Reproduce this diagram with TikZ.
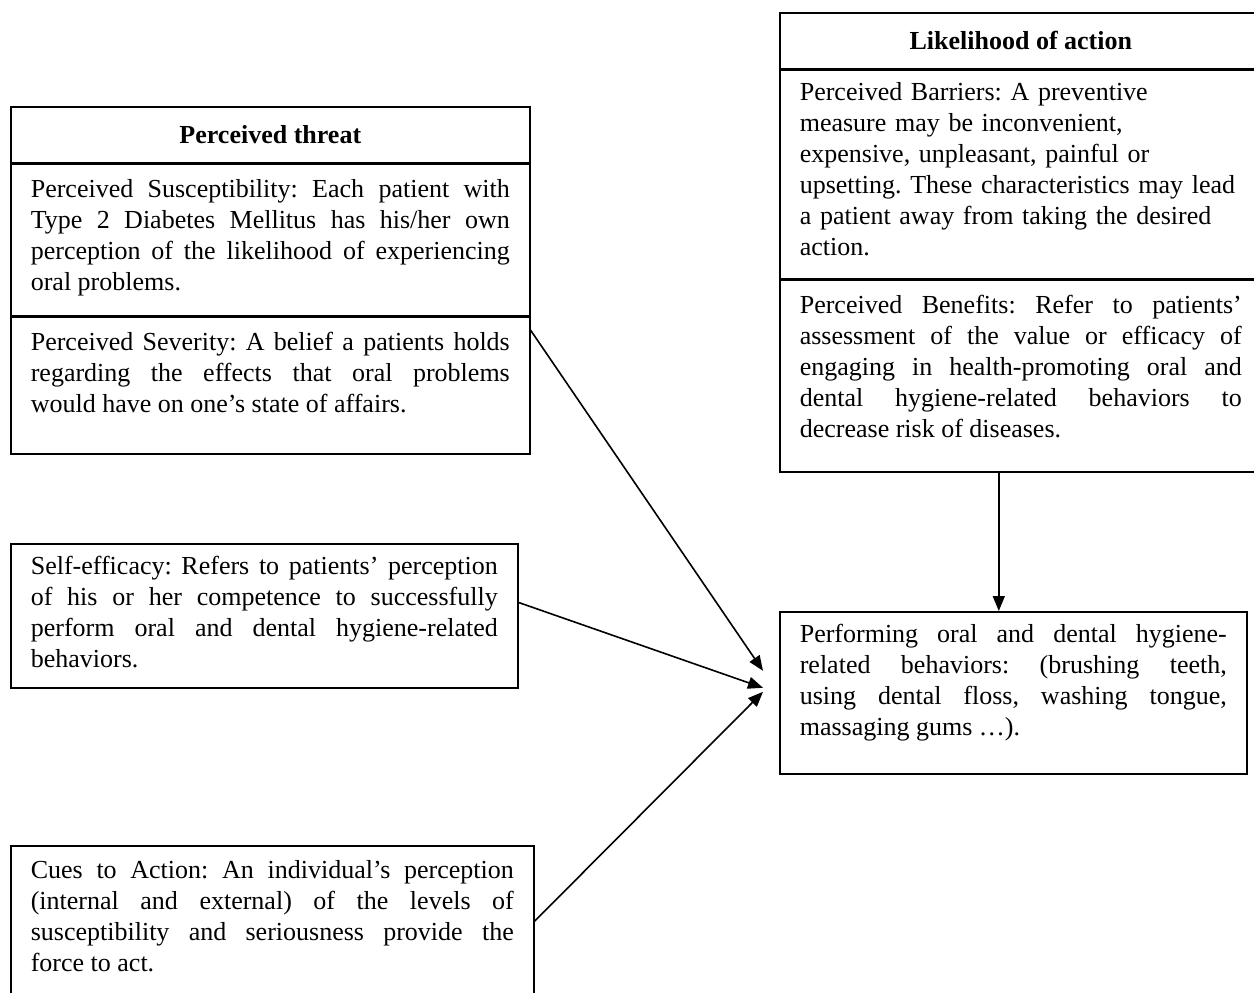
\documentclass[tikz,border=0pt]{standalone}
\usepackage{fontspec}
\setmainfont{Liberation Serif}
\usepackage{tikz}
\usetikzlibrary{arrows.meta}
\usetikzlibrary{positioning}
\hyphenpenalty=10000
\tolerance=9999
\frenchspacing
\newcommand{\boxfont}{\fontsize{13pt}{15.5pt}\selectfont}
\tikzset{
    head/.style={
           rectangle,
           draw=black, line width=0.8pt,
           inner sep=0pt,
           minimum height=28pt,
           font=\boxfont\bfseries,
           text centered,
           },
    cell/.style={
           rectangle,
           draw=black, line width=0.8pt,
           inner xsep=10pt, inner ysep=0pt,
           font=\boxfont,
           align=justify,
           },
}

\begin{document}
\begin{tikzpicture}[x=0.5pt,y=-0.5pt,->,>={Triangle[length=7.5pt,width=6pt]},line width=0.8pt]
  \useasboundingbox (0,0) rectangle (1254,992);
  % perceived threat
  \node[head,
 anchor=north west,
 minimum width=259.5pt] (threat) at (10,106)
 {Perceived threat};
  \node[cell,
 below=0pt of threat,
 text width=239.5pt,
 text height=16.5pt, text depth=59pt] (suscep)
 {Perceived Susceptibility: Each patient with\linebreak
  Type 2 Diabetes Mellitus has his/her own\linebreak
  perception of the likelihood of experiencing\linebreak
  oral problems.};
  \node[cell,
 below=0pt of suscep,
 text width=239.5pt,
 text height=16.5pt, text depth=52pt] (sever)
 {Perceived Severity: A belief a patients holds\linebreak
  regarding the effects that oral problems\linebreak
  would have on one's state of affairs.};
  % other factors
  \node[cell,
 anchor=north west,
 text width=233.5pt,
 text height=15.5pt, text depth=56.5pt] (selfEff) at (10,543)
 {Self-efficacy: Refers to patients' perception\linebreak
  of his or her competence to successfully\linebreak
  perform oral and dental hygiene-related\linebreak
  behaviors.};
  \node[cell,
 anchor=north west,
 text width=241.5pt,
 text height=16.5pt, text depth=63.5pt] (cues) at (10,845)
 {Cues to Action: An individual's perception\linebreak
  (internal and external) of the levels of\linebreak
  susceptibility and seriousness provide the\linebreak
  force to act.};
  % likelihood of action
  \node[head,
 anchor=north west,
 minimum width=241pt] (likely) at (779,12)
 {Likelihood of action};
  \node[cell,
 below=0pt of likely,
 text width=221pt, align=left,
 text height=15pt, text depth=89pt] (barrier)
 {Perceived Barriers: A preventive\\
  measure may be inconvenient,\\
  expensive, unpleasant, painful or\\
  upsetting. These characteristics may lead\\
  a patient away from taking the desired\\
  action.};
  \node[cell,
 below=0pt of barrier,
 text width=221pt,
 text height=16.5pt, text depth=79.5pt] (benefit)
 {Perceived Benefits: Refer to patients'\linebreak
  assessment of the value or efficacy of\linebreak
  engaging in health-promoting oral and\linebreak
  dental hygiene-related behaviors to\linebreak
  decrease risk of diseases.};
  \node[cell,
 anchor=north west,
 text width=213.5pt,
 text height=15.5pt, text depth=65.5pt] (perform) at (779,611)
 {Performing oral and dental hygiene-\linebreak
  related behaviors: (brushing teeth,\linebreak
  using dental floss, washing tongue,\linebreak
  massaging gums …).};
  % arrow ends
  \path (perform.west) ++(-16,-22) coordinate (tipA);
  \path (perform.west) ++(-16,-5) coordinate (tipB);
  \path (perform.west) ++(-16,-1) coordinate (tipC);
  \path (perform.north) ++(-14.5,0) coordinate (dropIn);
  \draw (sever.12.7) -- (tipA);
  \draw (selfEff.3.8) -- (tipB);
  \draw (cues.1.5) -- (tipC);
  \draw (dropIn |- benefit.south) -- (dropIn);
\end{tikzpicture}
\end{document}
